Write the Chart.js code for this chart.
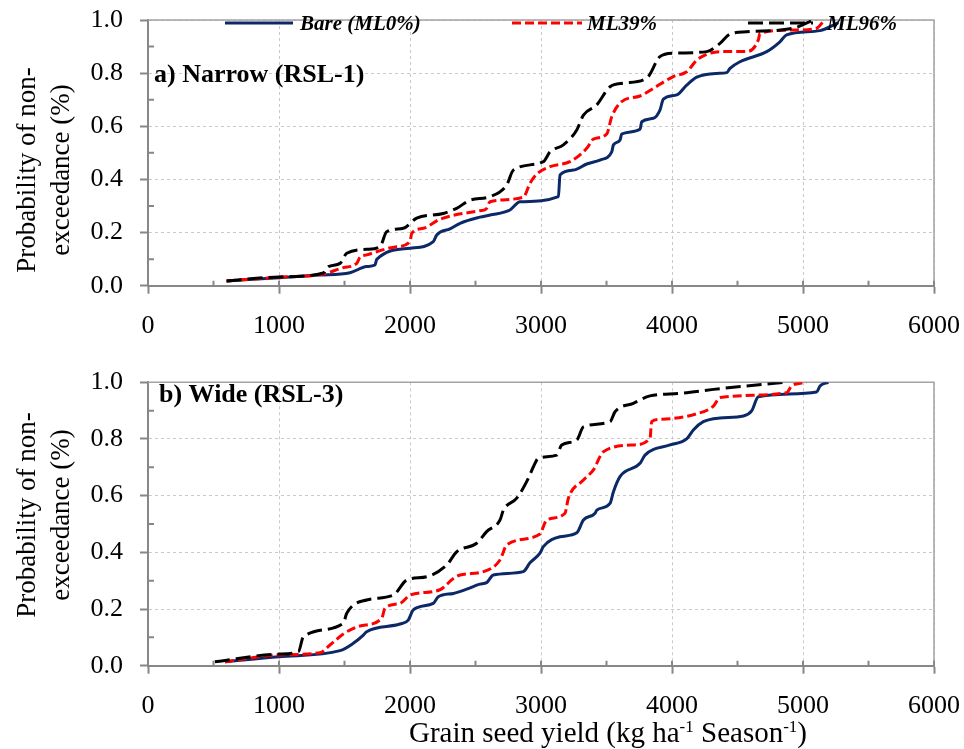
<!DOCTYPE html>
<html>
<head>
<meta charset="utf-8">
<script src="https://cdn.jsdelivr.net/npm/chart.js@4.4.0/dist/chart.umd.min.js"></script>
<style>
  html, body { margin: 0; padding: 0; background: #fff; }
  #wrap { position: relative; width: 964px; height: 749px; }
  canvas { position: absolute; left: 0; }
</style>
</head>
<body>
<div id="wrap">
  <canvas id="narrow" width="964" height="345" style="top:0"></canvas>
  <canvas id="wide" width="964" height="404" style="top:345px"></canvas>
</div>
<script>
// values: [yield kg/ha, probability]
const narrowBare = [[600,0.018],[1000,0.030],[1300,0.040],[1542,0.049],[1669,0.072],[1733,0.078],[1746,0.099],[2000,0.141],[2178,0.166],[2204,0.191],[2305,0.214],[2382,0.235],[2534,0.258],[2611,0.266],[2763,0.285],[2840,0.316],[3133,0.335],[3145,0.417],[3247,0.435],[3349,0.458],[3450,0.473],[3540,0.504],[3553,0.530],[3603,0.548],[3616,0.571],[3756,0.589],[3769,0.617],[3858,0.630],[3908,0.661],[3934,0.702],[4036,0.718],[4112,0.755],[4189,0.785],[4341,0.799],[4418,0.802],[4443,0.818],[4519,0.843],[4723,0.881],[4824,0.918],[4875,0.944],[5130,0.960],[5270,0.990]];
const narrowMl39 = [[600,0.018],[1000,0.032],[1338,0.044],[1491,0.068],[1593,0.084],[1618,0.107],[1669,0.116],[1898,0.147],[2000,0.166],[2013,0.197],[2102,0.216],[2229,0.250],[2534,0.282],[2580,0.288],[2611,0.316],[2865,0.333],[2916,0.385],[2967,0.420],[3069,0.448],[3221,0.467],[3349,0.517],[3400,0.552],[3502,0.571],[3540,0.636],[3616,0.693],[3756,0.714],[3858,0.743],[4010,0.787],[4112,0.805],[4189,0.849],[4265,0.871],[4366,0.881],[4570,0.881],[4659,0.925],[4672,0.950],[4926,0.962],[5104,0.969],[5155,0.994],[5170,1.0]];
const narrowMl96 = [[600,0.018],[1000,0.033],[1338,0.048],[1377,0.072],[1466,0.084],[1517,0.122],[1669,0.137],[1771,0.147],[1822,0.203],[1949,0.216],[2051,0.254],[2254,0.272],[2356,0.291],[2458,0.322],[2611,0.335],[2738,0.379],[2789,0.435],[3018,0.467],[3069,0.504],[3171,0.530],[3273,0.586],[3324,0.642],[3425,0.680],[3527,0.749],[3629,0.762],[3807,0.781],[3908,0.862],[4010,0.875],[4265,0.881],[4366,0.912],[4443,0.947],[4570,0.956],[4926,0.969],[5053,0.994],[5080,1.0]];

const wideBare = [[588,0.014],[1000,0.032],[1466,0.053],[1567,0.079],[1644,0.108],[1669,0.120],[1924,0.147],[1987,0.161],[2025,0.197],[2178,0.220],[2216,0.243],[2331,0.255],[2433,0.270],[2534,0.288],[2585,0.293],[2636,0.320],[2865,0.332],[2916,0.363],[2992,0.397],[3018,0.420],[3145,0.455],[3273,0.469],[3324,0.514],[3413,0.538],[3426,0.549],[3527,0.573],[3553,0.614],[3603,0.667],[3756,0.714],[3794,0.743],[3985,0.779],[4112,0.800],[4163,0.832],[4239,0.861],[4366,0.874],[4545,0.881],[4608,0.899],[4659,0.949],[5104,0.966],[5130,0.987],[5193,1.0]];
const wideMl39 = [[588,0.014],[1000,0.038],[1313,0.046],[1389,0.073],[1491,0.112],[1618,0.140],[1784,0.167],[1809,0.203],[1924,0.220],[2000,0.249],[2229,0.268],[2331,0.308],[2382,0.320],[2560,0.332],[2687,0.373],[2738,0.426],[2992,0.465],[3043,0.514],[3183,0.538],[3209,0.591],[3324,0.655],[3400,0.691],[3476,0.755],[3705,0.779],[3832,0.802],[3845,0.861],[3908,0.869],[4189,0.889],[4316,0.916],[4366,0.946],[4875,0.963],[4913,0.987],[5028,1.0]];
const wideMl96 = [[511,0.014],[1000,0.041],[1148,0.049],[1186,0.102],[1491,0.150],[1517,0.185],[1669,0.232],[1873,0.249],[1975,0.302],[2127,0.314],[2280,0.355],[2356,0.402],[2509,0.432],[2585,0.473],[2687,0.514],[2713,0.549],[2815,0.591],[2903,0.661],[2942,0.702],[2980,0.732],[3120,0.743],[3158,0.779],[3273,0.796],[3324,0.843],[3527,0.861],[3565,0.896],[3705,0.926],[3832,0.952],[4061,0.961],[4316,0.975],[4570,0.987],[4870,1.0]];

const seriesLabels = ['Bare (ML0%)', 'ML39%', 'ML96%'];
const xMin = 0, xMax = 6000, xStep = 1000;
const yMin = 0, yMax = 1, yStep = 0.2;
const yTitle = ['Probability of non-', 'exceedance (%)'];

const seriesColors = ['#0b2867', '#ff0000', '#000000'];
const seriesDash = [[], [9, 4], [15, 6]];
const serif = "'Liberation Serif', 'Times New Roman', serif";
const axisGray = '#878787';

const decor = {
  id: 'decor',
  beforeDatasetsDraw(chart) {
    const { ctx, chartArea: a, scales: { x, y } } = chart;
    ctx.save();
    ctx.strokeStyle = '#a3a3a3';
    ctx.lineWidth = 1.5;
    ctx.beginPath();
    ctx.moveTo(a.left, a.top); ctx.lineTo(a.right, a.top); ctx.lineTo(a.right, a.bottom);
    ctx.stroke();
    // inner tick marks
    ctx.strokeStyle = axisGray;
    ctx.lineWidth = 2;
    ctx.beginPath();
    for (let v = xMin + 500; v <= xMax; v += 500) {
      const p = x.getPixelForValue(v);
      ctx.moveTo(p, a.bottom); ctx.lineTo(p, a.bottom - 5);
    }
    for (let v = 0.1; v < yMax; v += 0.2) {
      const p = y.getPixelForValue(v);
      ctx.moveTo(a.left, p); ctx.lineTo(a.left + 6, p);
    }
    ctx.stroke();
    ctx.restore();
  },
  afterDatasetsDraw(chart, args, o) {
    const { ctx } = chart;
    ctx.save();
    ctx.fillStyle = '#000';
    ctx.textBaseline = 'middle';
    // panel label
    ctx.font = 'bold 26px ' + serif;
    ctx.textAlign = 'left';
    ctx.fillText(o.panel, o.panelX, o.panelY);
    // y title
    ctx.save();
    ctx.font = '27px ' + serif;
    ctx.textAlign = 'center';
    ctx.translate(28, o.titleY);
    ctx.rotate(-Math.PI / 2);
    yTitle.forEach((t, i) => ctx.fillText(t, 0, i * 34));
    ctx.restore();
    // legend
    if (o.legend) {
      ctx.font = 'bold italic 21px ' + serif;
      chart.data.datasets.forEach((ds, i) => {
        const s = o.legend[i];
        ctx.save();
        ctx.strokeStyle = ds.borderColor;
        ctx.lineWidth = 3;
        ctx.setLineDash(ds.borderDash);
        ctx.beginPath(); ctx.moveTo(s[0], 23); ctx.lineTo(s[1], 23); ctx.stroke();
        ctx.restore();
        ctx.fillText(ds.label, s[2], 25);
      });
    }
    // x title with superscripts
    if (o.xTitle) {
      const parts = [['Grain seed yield (kg ha', 0], ['-1', 1], [' Season', 0], ['-1', 1], [')', 0]];
      const big = '29px ' + serif, small = '17px ' + serif;
      let w = 0;
      parts.forEach(p => { ctx.font = p[1] ? small : big; w += ctx.measureText(p[0]).width; });
      let cx = o.xTitle[0] - w / 2;
      ctx.textBaseline = 'alphabetic';
      parts.forEach(p => {
        ctx.font = p[1] ? small : big;
        ctx.fillText(p[0], cx, o.xTitle[1] + (p[1] ? -10 : 0));
        cx += ctx.measureText(p[0]).width;
      });
    }
    ctx.restore();
  }
};

function noPad(s) {
  s.paddingTop = 0; s.paddingBottom = 0; s.paddingLeft = 0; s.paddingRight = 0;
}

function makeChart(id, series, cfg) {
  return new Chart(document.getElementById(id), {
    type: 'line',
    data: {
      datasets: series.map((pts, i) => ({
        label: seriesLabels[i],
        data: pts.map(p => ({ x: p[0], y: p[1] })),
        borderColor: seriesColors[i],
        borderDash: seriesDash[i],
        borderWidth: 3,
        pointRadius: 0,
        fill: false,
        cubicInterpolationMode: 'monotone',
        order: 3 - i
      }))
    },
    options: {
      responsive: false,
      animation: false,
      devicePixelRatio: 1,
      layout: { padding: { top: cfg.padTop, right: 30, left: 0, bottom: 0 } },
      plugins: { legend: { display: false }, tooltip: { enabled: false }, decor: cfg },
      scales: {
        x: {
          type: 'linear', min: xMin, max: xMax,
          afterFit: s => { s.height = cfg.xHeight; noPad(s); },
          ticks: { stepSize: xStep, padding: 17, maxRotation: 0, autoSkip: false, color: '#000', font: { family: serif, size: 26 }, callback: v => String(v) },
          grid: { color: '#c9c9c9', lineWidth: 1, tickLength: 8, tickColor: axisGray, tickWidth: 2 },
          border: { color: axisGray, width: 2, dash: [3, 3] }
        },
        y: {
          min: yMin, max: yMax,
          afterFit: s => { s.width = 148; noPad(s); },
          ticks: { stepSize: yStep, padding: 17, color: '#000', font: { family: serif, size: 26 }, callback: v => v.toFixed(1) },
          grid: { color: '#c9c9c9', lineWidth: 1, tickLength: 8, tickColor: axisGray, tickWidth: 2 },
          border: { color: axisGray, width: 2, dash: [3, 3] }
        }
      }
    },
    plugins: [decor]
  });
}

makeChart('narrow', [narrowBare, narrowMl39, narrowMl96], {
  padTop: 20, xHeight: 59.3,
  panel: 'a) Narrow (RSL-1)', panelX: 154, panelY: 75, titleY: 170,
  legend: [[225, 293, 300], [512, 582, 587], [748, 813, 827]]
});
makeChart('wide', [wideBare, wideMl39, wideMl96], {
  padTop: 37.3, xHeight: 83.3,
  panel: 'b) Wide (RSL-3)', panelX: 159, panelY: 50, titleY: 170,
  xTitle: [608, 397]
});
</script>
</body>
</html>
